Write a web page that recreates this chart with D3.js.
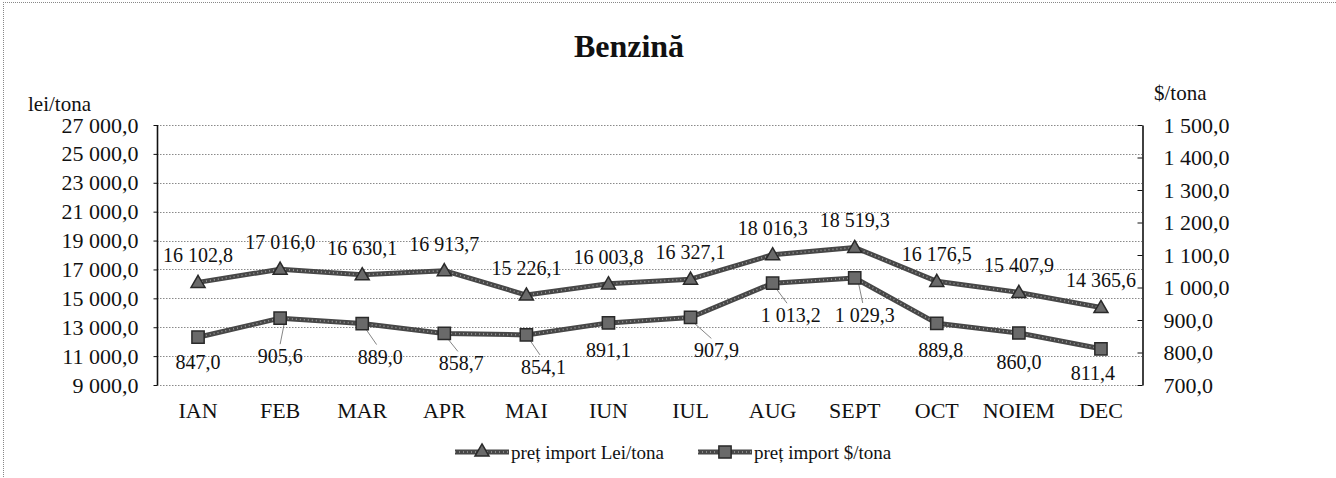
<!DOCTYPE html>
<html>
<head>
<meta charset="utf-8">
<script src="https://cdn.jsdelivr.net/npm/d3@7"></script>
<style>
  body { margin: 0; background: #fff; }
  text { font-family: "Liberation Serif", "Times New Roman", serif; fill: #111; }
</style>
</head>
<body>
<div id="container"></div>
<script>
const WIDTH = 1336;
const HEIGHT = 478;
const PLOT = { TOP: 125, BOTTOM: 385, LEFT: 157, RIGHT: 1142 };

// data
const months = ['IAN', 'FEB', 'MAR', 'APR', 'MAI', 'IUN', 'IUL', 'AUG', 'SEPT', 'OCT', 'NOIEM', 'DEC'];
const leiValues = [16102.8, 17016.0, 16630.1, 16913.7, 15226.1, 16003.8, 16327.1, 18016.3, 18519.3, 16176.5, 15407.9, 14365.6];
const usdValues = [847.0, 905.6, 889.0, 858.7, 854.1, 891.1, 907.9, 1013.2, 1029.3, 889.8, 860.0, 811.4];
const leiTicks = [9000, 11000, 13000, 15000, 17000, 19000, 21000, 23000, 25000, 27000];
const usdTicks = [700, 800, 900, 1000, 1100, 1200, 1300, 1400, 1500];
const seriesNames = ['preț import Lei/tona', 'preț import $/tona'];

// label placement (pixel offsets from the point)
const usdLabelDx = [0, 0, 18, 17, 17, 0, 26, 18, 10, 4, 0, -8];
const usdLabelDy = [25, 38, 33, 30, 32, 27, 33, 32, 37, 27, 29, 24];

const fmt = v => {
  const s = d3.format(',.1f')(v);
  return s.replace(/,/g, ' ').replace('.', ',');
};

const svg = d3.select('#container')
  .append('svg')
    .attr('width', WIDTH)
    .attr('height', HEIGHT);

// scan border
svg.append('line')
  .attr('x1', 3).attr('x2', WIDTH).attr('y1', 2.5).attr('y2', 2.5)
  .attr('stroke', '#888').attr('stroke-dasharray', '1,1');
svg.append('line')
  .attr('x1', 3.5).attr('x2', 3.5).attr('y1', 2).attr('y2', HEIGHT)
  .attr('stroke', '#888').attr('stroke-dasharray', '1,1');

const x = d3.scaleBand().domain(months).range([PLOT.LEFT, PLOT.RIGHT]);
const cx = m => x(m) + x.bandwidth() / 2;
const yLei = d3.scaleLinear().domain([9000, 27000]).range([PLOT.BOTTOM, PLOT.TOP]);
const yUsd = d3.scaleLinear().domain([700, 1500]).range([PLOT.BOTTOM, PLOT.TOP]);

// title
svg.append('text')
  .attr('x', 629).attr('y', 57)
  .attr('text-anchor', 'middle')
  .style('font-size', '32px').style('font-weight', 'bold')
  .text('Benzină');

svg.append('text').attr('x', 28).attr('y', 111)
  .style('font-size', '21px').text('lei/tona');
svg.append('text').attr('x', 1154).attr('y', 100)
  .style('font-size', '21px').text('$/tona');

// gridlines
svg.append('g')
  .selectAll('line')
  .data(leiTicks)
  .join('line')
    .attr('x1', PLOT.LEFT).attr('x2', PLOT.RIGHT)
    .attr('y1', d => Math.round(yLei(d)) + 0.5)
    .attr('y2', d => Math.round(yLei(d)) + 0.5)
    .attr('stroke', '#8a8a8a')
    .attr('stroke-dasharray', '1.5,1.5');

// left axis
const leftAxis = svg.append('g')
  .attr('transform', `translate(${PLOT.LEFT + 0.5},0)`)
  .call(d3.axisLeft(yLei).tickValues(leiTicks).tickFormat(fmt).tickSize(4).tickPadding(15));
leftAxis.select('.domain').attr('stroke', '#111').attr('stroke-width', 1.6).attr('d', `M0,${PLOT.TOP}V${PLOT.BOTTOM}`);
leftAxis.selectAll('.tick line').attr('stroke', '#111');
leftAxis.selectAll('text')
  .style('font-family', '"Liberation Serif", serif')
  .style('font-size', '22px').attr('fill', '#111');

// right axis
const rightAxis = svg.append('g')
  .attr('transform', `translate(${PLOT.RIGHT + 0.5},0)`)
  .call(d3.axisRight(yUsd).tickValues(usdTicks).tickFormat(fmt).tickSizeInner(-5).tickSizeOuter(0).tickPadding(21));
rightAxis.select('.domain').attr('stroke', '#111').attr('stroke-width', 1.6);
rightAxis.selectAll('.tick line').attr('stroke', '#111');
rightAxis.selectAll('text')
  .style('font-family', '"Liberation Serif", serif')
  .style('font-size', '22px').attr('fill', '#111');

// category labels
svg.append('g')
  .selectAll('text')
  .data(months)
  .join('text')
    .attr('x', d => cx(d))
    .attr('y', 418)
    .attr('text-anchor', 'middle')
    .style('font-size', '22px')
    .text(d => d);

const triangle = d3.symbol().type(d3.symbolTriangle).size(85);
const square = d3.symbol().type(d3.symbolSquare).size(150);

const drawLine = (g, pts) => {
  const line = d3.line().x(p => p[0]).y(p => p[1]);
  g.append('path').attr('d', line(pts)).attr('fill', 'none')
    .attr('stroke', '#474747').attr('stroke-width', 5).attr('stroke-linejoin', 'round');
  g.append('path').attr('d', line(pts)).attr('fill', 'none')
    .attr('stroke', '#9a9a9a').attr('stroke-width', 1.6).attr('stroke-dasharray', '1,3');
};

const drawMarker = (g, px, py, sym) => {
  g.append('path')
    .attr('d', sym())
    .attr('transform', `translate(${px},${py})`)
    .attr('fill', '#6a6a6a')
    .attr('stroke', '#2a2a2a')
    .attr('stroke-width', 1.5);
};

// leader lines for displaced $ labels
const leaders = svg.append('g');
months.forEach((m, i) => {
  const px = cx(m), py = yUsd(usdValues[i]);
  if (usdLabelDy[i] > 29 || Math.abs(usdLabelDx[i]) > 10) {
    leaders.append('line')
      .attr('x1', px + 4).attr('y1', py + 6)
      .attr('x2', px + usdLabelDx[i] * 0.8).attr('y2', py + usdLabelDy[i] - 12)
      .attr('stroke', '#666').attr('stroke-width', 0.8);
  }
});

const series = svg.append('g');
const leiPts = months.map((m, i) => [cx(m), yLei(leiValues[i])]);
const usdPts = months.map((m, i) => [cx(m), yUsd(usdValues[i])]);
drawLine(series, leiPts);
drawLine(series, usdPts);
leiPts.forEach(p => drawMarker(series, p[0], p[1] + 1, triangle));
usdPts.forEach(p => drawMarker(series, p[0], p[1], square));

// value labels
svg.append('g')
  .selectAll('text')
  .data(leiValues)
  .join('text')
    .attr('x', (d, i) => cx(months[i]))
    .attr('y', d => yLei(d) - 27)
    .attr('dy', '0.35em')
    .attr('text-anchor', 'middle')
    .style('font-size', '20px')
    .text(d => fmt(d));

svg.append('g')
  .selectAll('text')
  .data(usdValues)
  .join('text')
    .attr('x', (d, i) => cx(months[i]) + usdLabelDx[i])
    .attr('y', (d, i) => yUsd(d) + usdLabelDy[i])
    .attr('dy', '0.35em')
    .attr('text-anchor', 'middle')
    .style('font-size', '20px')
    .text(d => fmt(d));

// legend
const legend = svg.append('g');
const legendItems = [
  { name: seriesNames[0], x0: 455, sym: triangle },
  { name: seriesNames[1], x0: 698, sym: square }
];
legendItems.forEach(item => {
  drawLine(legend, [[item.x0, 452], [item.x0 + 54, 452]]);
  drawMarker(legend, item.x0 + 27, 452, item.sym);
  legend.append('text')
    .attr('x', item.x0 + 56).attr('y', 459)
    .style('font-size', '19px')
    .text(item.name);
});
</script>
</body>
</html>
